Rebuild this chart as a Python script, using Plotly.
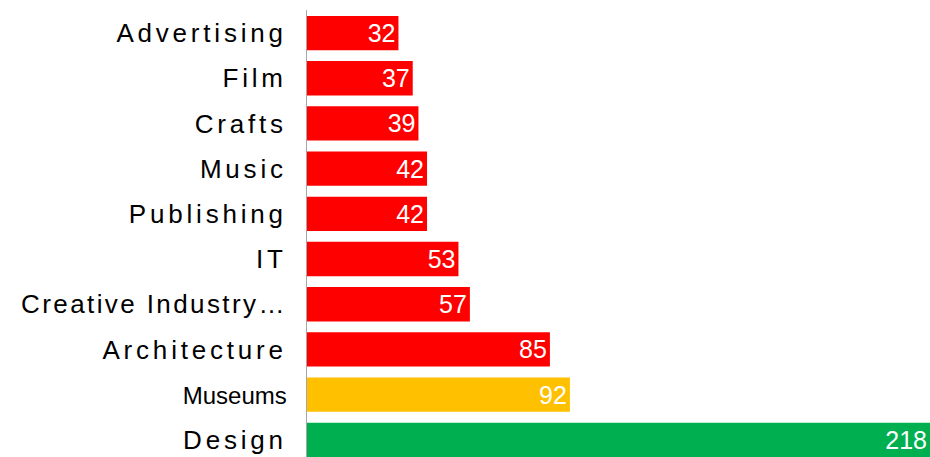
import plotly.graph_objects as go

categories = ["Advertising", "Film", "Crafts", "Music", "Publishing", "IT",
              "Creative Industry…", "Architecture", "Museums", "Design"]
values = [32, 37, 39, 42, 42, 53, 57, 85, 92, 218]
bar_colors = ["#FF0000"] * 8 + ["#FFC000", "#00B050"]

tick_text = []
for c in categories:
    if c == "Museums":
        tick_text.append('<span style="font-size:24px">Museums</span>')
    elif c.endswith("…"):
        tick_text.append('<span style="letter-spacing:2.4px">%s</span>' % c)
    else:
        tick_text.append('<span style="letter-spacing:3.8px">%s</span>' % c)

fig = go.Figure(go.Bar(
    y=categories, x=values, orientation="h",
    marker=dict(color=bar_colors, line=dict(width=0)),
    text=[str(v) for v in values], textposition="inside",
    insidetextanchor="end", textangle=0, constraintext="none",
    textfont=dict(family="Liberation Sans, Arial, sans-serif", size=25, color="white"),
    cliponaxis=False,
    hoverinfo="skip",
))

fig.update_layout(
    width=930, height=457,
    margin=dict(l=307, r=0, t=10, b=0, autoexpand=False),
    paper_bgcolor="white", plot_bgcolor="white",
    bargap=0.24, showlegend=False,
    xaxis=dict(range=[0, 218], visible=False, fixedrange=True, automargin=False),
    yaxis=dict(categoryorder="array", categoryarray=categories,
               tickmode="array", tickvals=categories, ticktext=tick_text,
               range=[9.38, -0.51], showline=True, linecolor="#A6A6A6", linewidth=1,
               ticks="", showgrid=False, zeroline=False, ticklabelstandoff=14,
               automargin=False, fixedrange=True,
               tickfont=dict(family="Liberation Sans, Arial, sans-serif", size=26, color="black")),
)

fig.write_html("out.html", config={"displayModeBar": False, "staticPlot": True},
               post_script="document.body.style.margin='0';document.body.style.overflow='hidden';")
